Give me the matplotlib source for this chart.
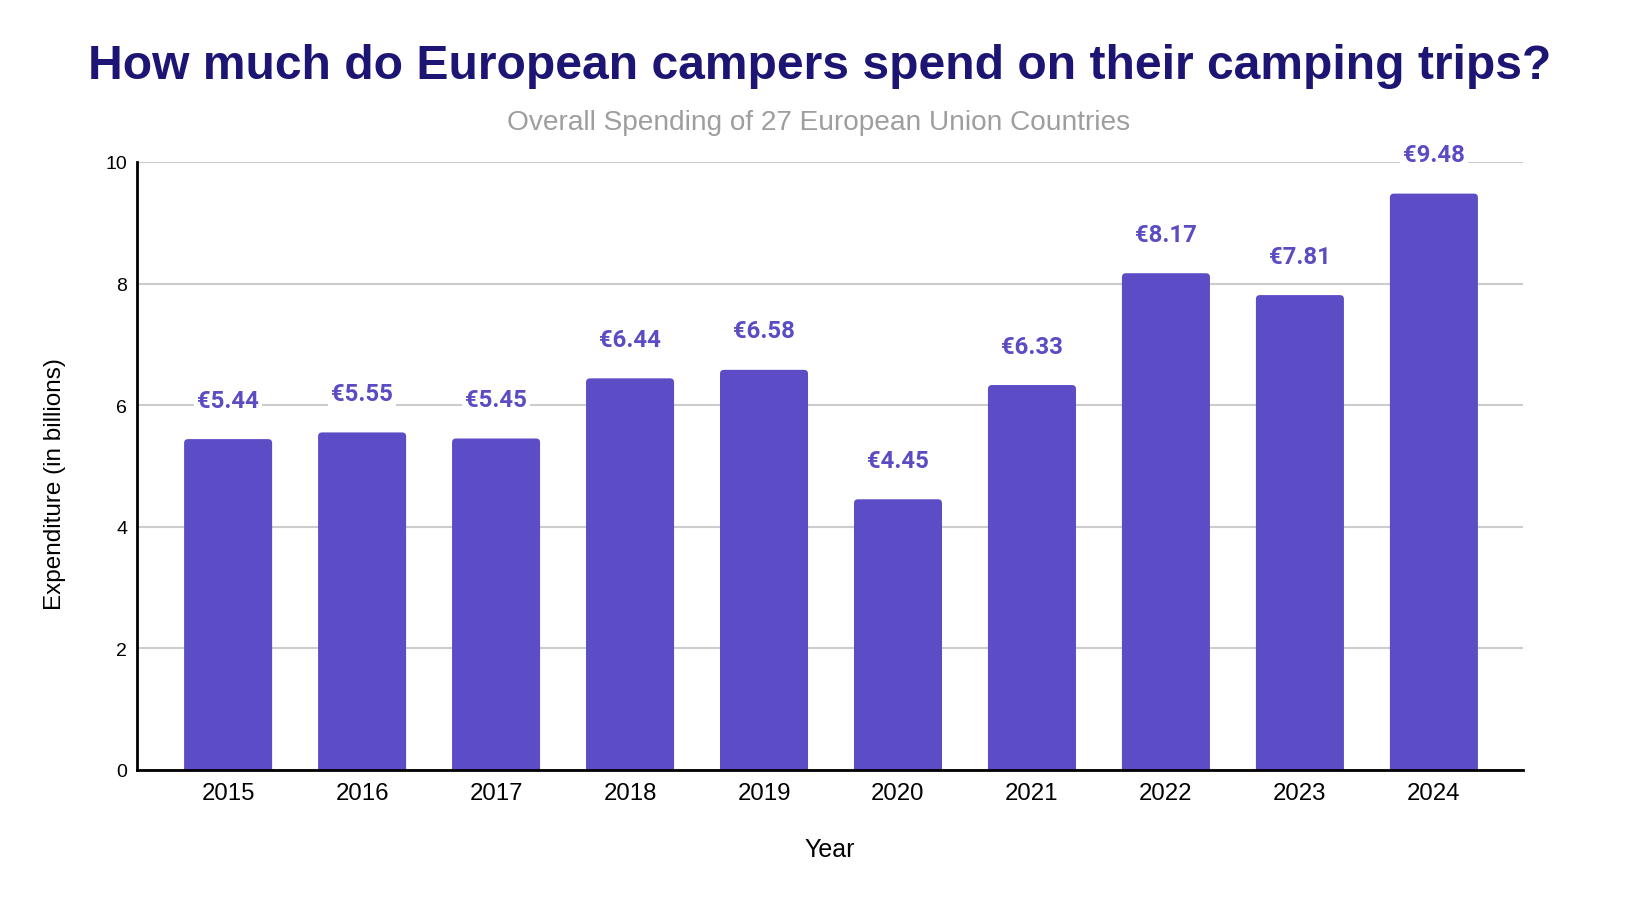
import matplotlib
matplotlib.use("Agg")
import matplotlib.pyplot as plt
from matplotlib.patches import FancyBboxPatch

years = ["2015", "2016", "2017", "2018", "2019", "2020", "2021", "2022", "2023", "2024"]
spending = [5.44, 5.55, 5.45, 6.44, 6.58, 4.45, 6.33, 8.17, 7.81, 9.48]
y_ticks = [0, 2, 4, 6, 8, 10]

title = "How much do European campers spend on their camping trips?"
subtitle = "Overall Spending of 27 European Union Countries"
bar_color = "#5c4dc7"
label_color = "#5b4cc4"

plt.rcParams['font.family'] = ['Liberation Sans', 'DejaVu Sans']

fig = plt.figure(figsize=(16.4, 9.04), dpi=100)
ax = fig.add_axes([137/1640, 1 - 770.7/904, (1523-137)/1640, (770.7-163)/904])

x = list(range(len(years)))
bars = ax.bar(x, spending, width=0.657, color=bar_color, zorder=3)
ax.set_xlim(-0.68, len(years) - 1 + 0.665)
ax.set_ylim(0, 10)

# rounded top corners: replace rectangles with rounded boxes extending below baseline
x_px_per_unit = 1386 / (ax.get_xlim()[1] - ax.get_xlim()[0])
y_px_per_unit = 607.7 / 10
aspect = x_px_per_unit / y_px_per_unit
r = 4 / x_px_per_unit
for b in bars:
    bx, bw, bh = b.get_x(), b.get_width(), b.get_height()
    b.set_visible(False)
    ext = 0.2
    p = FancyBboxPatch((bx, -ext), bw, bh + ext,
                       boxstyle=f"round,pad=0,rounding_size={r}",
                       mutation_aspect=aspect, facecolor=bar_color,
                       edgecolor="none", zorder=3, clip_on=True)
    ax.add_patch(p)

for xi, v in zip(x, spending):
    ax.annotate(f"€{v:.2f}", xy=(xi, v), xytext=(0, 28), textcoords="offset points",
                ha="center", va="center", fontsize=17.3, fontweight="bold",
                family=["Roboto", "DejaVu Sans"], color=label_color, zorder=5,
                bbox=dict(boxstyle="square,pad=0.12", facecolor="white", edgecolor="none"))

ax.set_yticks(y_ticks)
ax.set_xticks(x)
ax.set_xticklabels(years)
ax.yaxis.grid(True, color="#cccccc", linewidth=1.5, zorder=0)
ax.set_axisbelow(True)
for s in ["top", "right"]:
    ax.spines[s].set_visible(False)
ax.spines["left"].set_linewidth(2)
ax.spines["bottom"].set_linewidth(2)
ax.spines["left"].set_zorder(4)
ax.spines["bottom"].set_zorder(4)
ax.tick_params(axis="x", length=0, pad=9, labelsize=17.3, colors="black")
ax.tick_params(axis="y", length=0, pad=7, labelsize=14, colors="black")

ax.set_ylabel("Expenditure (in billions)", fontsize=17.5, color="black", va="center")
ax.yaxis.set_label_coords((55 - 137) / 1386, 0.472)
ax.set_xlabel("Year", fontsize=18, color="black", va="center")
ax.xaxis.set_label_coords(0.5, -(850 - 770.7) / 607.7)

fig.text(0.5, 1 - 79/904, title, ha="center", va="baseline", fontsize=34.6,
         fontweight="bold", color="#1c1574")
fig.text(0.499, 1 - 130/904, subtitle, ha="center", va="baseline", fontsize=20.2,
         color="#9e9e9e")

fig.savefig("out.png", dpi=100, facecolor="white")
